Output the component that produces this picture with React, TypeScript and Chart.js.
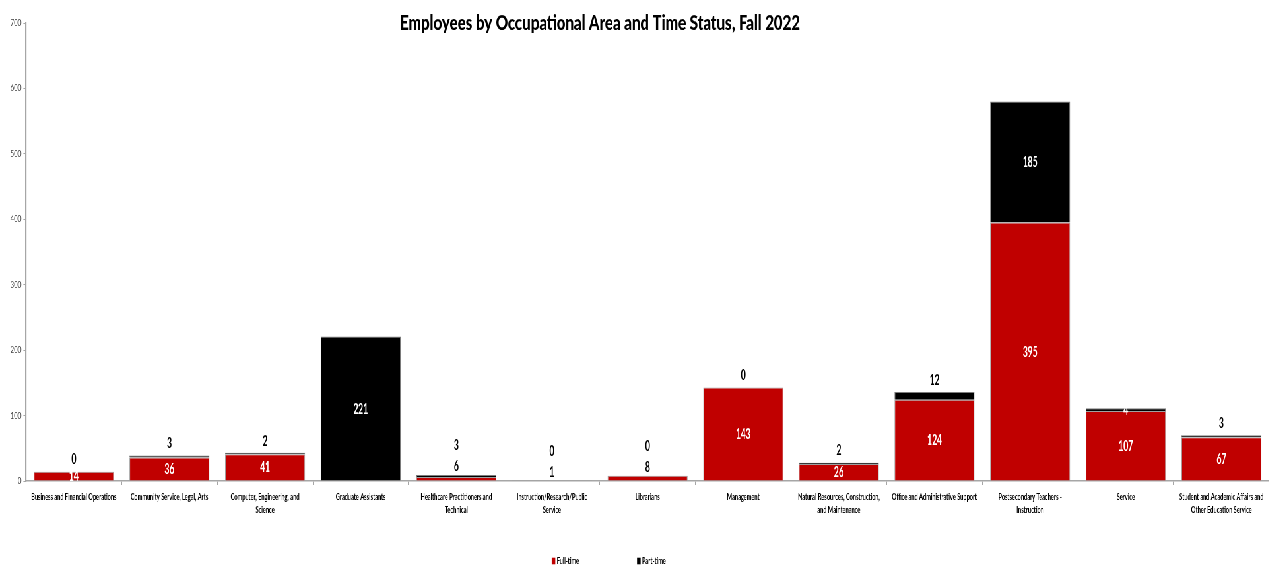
import React, { useEffect, useRef } from 'react';
import { Chart, registerables } from 'chart.js';

Chart.register(...registerables);

// ---- data ----
const TITLE = 'Employees by Occupational Area and Time Status, Fall 2022';
const CATEGORIES: (string | string[])[] = [
  'Business and Financial Operations',
  'Community Service, Legal, Arts',
  ['Computer, Engineering, and', 'Science'],
  'Graduate Assistants',
  ['Healthcare Practitioners and', 'Technical'],
  ['Instruction/Research/Public', 'Service'],
  'Librarians',
  'Management',
  ['Natural Resources, Construction,', 'and Maintenance'],
  'Office and Administrative Support',
  ['Postsecondary Teachers -', 'Instruction'],
  'Service',
  ['Student and Academic Affairs and', 'Other Education Service'],
];
const SERIES_NAMES = ['Full-time', 'Part-time'];
const FULL_TIME: (number | null)[] = [14, 36, 41, null, 6, 1, 8, 143, 26, 124, 395, 107, 67];
const PART_TIME: (number | null)[] = [0, 3, 2, 221, 3, 0, 0, 0, 2, 12, 185, 4, 3];
const Y_MIN = 0;
const Y_MAX = 700;
const Y_STEP = 100;
// categories whose part-time label sits inside the segment
const PT_LABEL_INSIDE = [3, 10, 11];

// ---- styling ----
const SX = 0.66; // horizontal condensation of the whole drawing
const W = Math.round(1269 / SX);
const H = 568;
const RED = '#C00000';
const BLACK = '#000000';
const AXIS = '#a6a6a6';
const FONT = 'Lato, "Open Sans", sans-serif';

const px = (imgX: number) => imgX / SX;

const labelsPlugin = {
  id: 'segLabels',
  afterDatasetsDraw(chart: any) {
    const ctx = chart.ctx as CanvasRenderingContext2D;
    const ft = chart.getDatasetMeta(0);
    const pt = chart.getDatasetMeta(1);
    const draw = (text: string, x: number, y: number, color: string) => {
      ctx.save();
      ctx.translate(x, y);
      ctx.scale(0.8, 1);
      ctx.font = `bold 16px ${FONT}`;
      ctx.textAlign = 'center';
      ctx.textBaseline = 'middle';
      ctx.fillStyle = color;
      ctx.fillText(text, 0, 0);
      ctx.restore();
    };
    FULL_TIME.forEach((v, i) => {
      const fb = ft.data[i];
      const pb = pt.data[i];
      let ftLabelY: number | null = null;
      if (v != null && fb) {
        const segH = fb.base - fb.y;
        if (segH >= 8) {
          draw(String(v), fb.x, (fb.y + fb.base) / 2, '#ffffff');
        } else {
          ftLabelY = Math.min(fb.y, pb.y) - 9;
          draw(String(v), fb.x, ftLabelY, '#000000');
        }
      }
      const p = PART_TIME[i];
      if (p != null && pb) {
        if (PT_LABEL_INSIDE.includes(i)) {
          draw(String(p), pb.x, (pb.y + pb.base) / 2, '#ffffff');
        } else {
          const y = ftLabelY != null ? ftLabelY - 21 : pb.y - 12.5;
          draw(String(p), pb.x, y, '#000000');
        }
      }
    });
  },
};

const titlePlugin = {
  id: 'condTitle',
  afterDraw(chart: any) {
    const ctx = chart.ctx as CanvasRenderingContext2D;
    ctx.save();
    ctx.font = `900 21px ${FONT}`;
    const w = ctx.measureText(TITLE).width;
    const target = px(400);
    ctx.translate(px(600), 30);
    ctx.scale(target / w, 1);
    ctx.textAlign = 'center';
    ctx.textBaseline = 'alphabetic';
    ctx.fillStyle = '#000';
    ctx.fillText(TITLE, 0, 0);
    ctx.restore();
  },
};

const legendPlugin = {
  id: 'condLegend',
  afterDraw(chart: any) {
    const ctx = chart.ctx as CanvasRenderingContext2D;
    ctx.save();
    ctx.font = `bold 8.5px ${FONT}`;
    ctx.textBaseline = 'middle';
    ctx.textAlign = 'left';
    let x = px(551.7);
    const yc = 561;
    chart.data.datasets.forEach((ds: any) => {
      ctx.fillStyle = ds.backgroundColor;
      ctx.fillRect(x, yc - 3.3, px(3.6), 6.6);
      x += px(3.6) + px(1.4);
      ctx.fillStyle = '#000';
      ctx.fillText(ds.label, x, yc);
      x += ctx.measureText(ds.label).width + px(58);
    });
    ctx.restore();
  },
};

export default function App() {
  const ref = useRef<HTMLCanvasElement>(null);
  useEffect(() => {
    document.body.style.margin = '0';
    document.body.style.overflow = 'hidden';
    const chart = new Chart(ref.current!, {
      type: 'bar',
      data: {
        labels: CATEGORIES,
        datasets: [
          {
            label: SERIES_NAMES[0],
            data: FULL_TIME,
            backgroundColor: RED,
            borderColor: 'rgba(150,150,150,0.9)',
            borderWidth: 1,
            categoryPercentage: 0.837,
            barPercentage: 1,
          },
          {
            label: SERIES_NAMES[1],
            data: PART_TIME,
            backgroundColor: BLACK,
            borderColor: 'rgba(110,110,110,0.9)',
            borderWidth: 1,
            categoryPercentage: 0.837,
            barPercentage: 1,
          },
        ],
      },
      options: {
        responsive: true,
        maintainAspectRatio: false,
        animation: false,
        layout: { padding: { top: 23, left: 0, right: 0, bottom: 0 } },
        plugins: {
          legend: { display: false },
          title: { display: false },
          tooltip: { enabled: false },
        },
        scales: {
          x: {
            stacked: true,
            grid: {
              display: true,
              drawOnChartArea: false,
              drawTicks: true,
              tickLength: 4,
              color: AXIS,
              offset: true,
            },
            border: { display: true, color: AXIS, width: 1.5 },
            ticks: {
              autoSkip: false,
              maxRotation: 0,
              minRotation: 0,
              padding: 5,
              color: '#000',
              font: { family: FONT, size: 8.5, weight: 'bold', lineHeight: 1.6 },
            },
            afterFit: (scale: any) => {
              scale.height = 87;
            },
          },
          y: {
            stacked: true,
            min: Y_MIN,
            max: Y_MAX,
            grid: {
              display: true,
              drawOnChartArea: false,
              drawTicks: true,
              tickLength: 4,
              color: AXIS,
            },
            border: { display: true, color: AXIS, width: 2.2 },
            ticks: {
              stepSize: Y_STEP,
              padding: 3,
              color: '#404040',
              font: { family: FONT, size: 9.5 },
            },
            afterFit: (scale: any) => {
              scale.width = px(26);
            },
          },
        },
      },
      plugins: [labelsPlugin, titlePlugin, legendPlugin],
    } as any);
    return () => chart.destroy();
  }, []);

  return (
    <div
      style={{
        position: 'fixed',
        left: 0,
        top: 0,
        width: W,
        height: H,
        transform: `scaleX(${SX})`,
        transformOrigin: '0 0',
        background: '#fff',
      }}
    >
      <canvas ref={ref} />
    </div>
  );
}
